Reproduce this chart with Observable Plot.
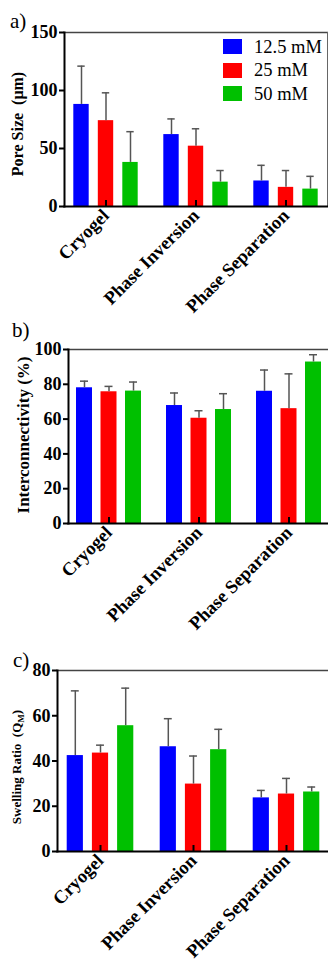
<!DOCTYPE html>
<html>
<head>
<meta charset="utf-8">
<script src="https://cdn.jsdelivr.net/npm/d3@7"></script>
<script src="https://cdn.jsdelivr.net/npm/@observablehq/plot@0.6"></script>
<style>
  html, body { margin: 0; padding: 0; background: #fff; }
  #root { position: relative; width: 328px; height: 972px; overflow: hidden; font-family: "Liberation Serif", "Times New Roman", serif; }
  .panel { position: absolute; left: 0; }
  .panel svg { font-family: "Liberation Serif", "Times New Roman", serif !important; overflow: visible !important; background: transparent !important; }
  .panel svg text { font-family: "Liberation Serif", "Times New Roman", serif !important; font-weight: bold !important; }
  .tag { position: absolute; font-size: 21px; line-height: 1; color: #000; }
  .ylab { position: absolute; font-weight: bold; white-space: pre; transform: translate(-50%, -50%) rotate(-90deg); color: #000; line-height: 1; }
  .legend { position: absolute; font-size: 18.5px; line-height: 1; }
  .legend .row { display: flex; align-items: center; height: 23.5px; }
  .legend .sw { width: 19px; height: 15px; margin-right: 12px; }
  sub { font-size: 0.7em; }
</style>
</head>
<body>
<div id="root"></div>
<script>
const categories = ["Cryogel", "Phase Inversion", "Phase Separation"];
const series = ["12.5 mM", "25 mM", "50 mM"];
const colors = ["#0000FF", "#FF0000", "#00C000"];

// values ordered: category by category, series within category
const poreSize    = [88, 74, 38,   62, 52, 21,   22, 16.5, 15];
const poreSizeErr = [33, 24, 26.5, 13.5, 15, 10, 13.5, 14.5, 11];

const interconnect    = [78, 75.7, 76.1,  67.8, 60.5, 65.5,  76, 66, 92.8];
const interconnectErr = [3.8, 3.1, 5.2,   7.2, 4.3, 9.1,   12.2, 20, 4.2];

const swelling    = [42.4, 43.5, 55.6,  46.3, 29.8, 45,  23.7, 25.4, 26.3];
const swellingErr = [28.6, 3.5, 16.6,   12.4, 12.4, 9,   3.3, 6.9, 2.2];

const ticksA = [0, 50, 100, 150];
const ticksB = [0, 20, 40, 60, 80, 100];
const ticksC = [0, 20, 40, 60, 80];

const root = document.getElementById("root");
const FONT = '"Liberation Serif", "Times New Roman", serif';

function panel({top, height, mt, mb, ml, mr, values, errs, yDomain, yTicks, offset, barW, rightLine}) {
  const rows = categories.flatMap((c, i) => series.map((s, j) => ({cat: c, series: s, j, value: values[i * 3 + j], err: errs[i * 3 + j]})));
  const innerW = 328 - ml - mr;
  const step = innerW / (3 - 0.1);
  const bw = step * 0.9;
  const inset = (bw - barW) / 2;
  const capInset = (bw - 8) / 2;
  const marks = [];
  series.forEach((s, j) => {
    const d = rows.filter(r => r.j === j);
    const dx = (j - 1) * offset;
    marks.push(Plot.barY(d, {x: "cat", y: "value", fill: colors[j], insetLeft: inset, insetRight: inset, dx}));
  });
  series.forEach((s, j) => {
    const d = rows.filter(r => r.j === j);
    const dx = (j - 1) * offset;
    marks.push(Plot.ruleX(d, {x: "cat", y1: "value", y2: r => r.value + r.err, dx, stroke: "#555", strokeWidth: 1.5}));
    marks.push(Plot.tickY(d, {x: "cat", y: r => r.value + r.err, dx, insetLeft: capInset, insetRight: capInset, stroke: "#555", strokeWidth: 1.5}));
  });
  marks.push(Plot.frame({anchor: "top", stroke: "#444", strokeWidth: 1.5}));
  if (rightLine) marks.push(Plot.frame({anchor: "right", stroke: "#666", strokeWidth: 1}));
  marks.push(Plot.axisY({ticks: yTicks, tickSize: 5, tickPadding: 2, strokeWidth: 2, fontSize: 18, fontWeight: "bold", fontFamily: FONT, fill: "#000", label: null}));
  marks.push(Plot.axisX({tickSize: 0, tickPadding: 6, tickRotate: -45, fontSize: 18.5, fontWeight: "bold", fontFamily: FONT, fill: "#000", label: null}));
  marks.push(Plot.axisX({tickSize: -6, strokeWidth: 2, tickFormat: () => "", label: null}));
  marks.push(Plot.frame({anchor: "left", stroke: "#000", strokeWidth: 2}));
  marks.push(Plot.frame({anchor: "bottom", stroke: "#000", strokeWidth: 2}));
  const svg = Plot.plot({
    width: 328, height,
    marginTop: mt, marginBottom: mb, marginLeft: ml, marginRight: mr,
    x: {domain: categories, paddingInner: 0.1, paddingOuter: 0},
    y: {domain: yDomain},
    style: `font-family: ${FONT}; background: transparent; overflow: visible; color: #000;`,
    marks
  });
  const div = document.createElement("div");
  div.className = "panel";
  div.style.top = top + "px";
  div.appendChild(svg);
  root.appendChild(div);
}

function addText(cls, html, style) {
  const el = document.createElement("div");
  el.className = cls;
  el.innerHTML = html;
  Object.assign(el.style, style);
  root.appendChild(el);
  return el;
}

panel({top: 0, height: 325, mt: 32, mb: 119, ml: 64, mr: 1, values: poreSize, errs: poreSizeErr, yDomain: [0, 150], yTicks: ticksA, offset: 24.5, barW: 16, rightLine: true});
panel({top: 325, height: 325, mt: 24, mb: 127, ml: 68, mr: -1, values: interconnect, errs: interconnectErr, yDomain: [0, 100], yTicks: ticksB, offset: 24.5, barW: 16, rightLine: false});
panel({top: 650, height: 322, mt: 20, mb: 121, ml: 57, mr: 0, values: swelling, errs: swellingErr, yDomain: [0, 80], yTicks: ticksC, offset: 25.2, barW: 16.3, rightLine: false});

addText("tag", "a)", {left: "10px", top: "11px"});
addText("tag", "b)", {left: "12px", top: "320px"});
addText("tag", "c)", {left: "13px", top: "650px"});

addText("ylab", "Pore Size  (\u03bcm)", {left: "18px", top: "124px", fontSize: "16px"});
addText("ylab", "Interconnectivity (%)", {left: "23px", top: "435px", fontSize: "17px"});
addText("ylab", "Swelling Ratio  (Q<sub>M</sub>)", {left: "18px", top: "767px", fontSize: "13px"});

const legend = addText("legend", "", {left: "223px", top: "35px"});
series.forEach((s, j) => {
  const row = document.createElement("div");
  row.className = "row";
  row.innerHTML = `<div class="sw" style="background:${colors[j]}"></div><span>${s}</span>`;
  legend.appendChild(row);
});
</script>
</body>
</html>
